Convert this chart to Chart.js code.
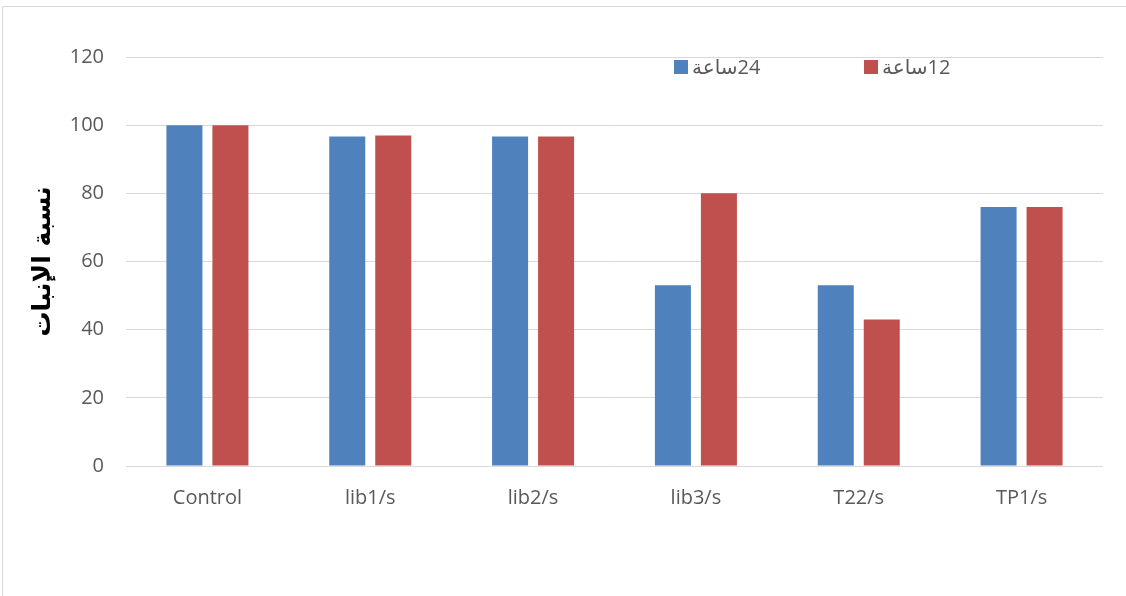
<!DOCTYPE html>
<html>
<head>
<meta charset="utf-8">
<script src="https://cdn.jsdelivr.net/npm/chart.js@4/dist/chart.umd.min.js"></script>
<style>
  html, body { margin: 0; padding: 0; background: #fff; }
  #wrap { width: 1126px; height: 596px; }
</style>
</head>
<body>
<div id="wrap"><canvas id="c" width="1126" height="596"></canvas></div>
<script>
// Germination rate per treatment after 24 h and 12 h
const categories = ['Control', 'lib1/s', 'lib2/s', 'lib3/s', 'T22/s', 'TP1/s'];
const hours24 = [100, 96.7, 96.7, 53, 53, 76];
const hours12 = [100, 97, 96.7, 80, 43, 76];
const seriesNames = ['24ساعة', '12ساعة'];
const yTitle = 'نسبة الإنبات';
const yMin = 0, yMax = 120, yStep = 20;

const BLUE = '#4F81BD';
const RED = '#C0504D';
const TEXT = '#595959';
const GRID = '#D9D9D9';

// Frame lines around the chart object plus a white page
const framePlugin = {
  id: 'frame',
  beforeDraw(chart) {
    const ctx = chart.ctx;
    ctx.save();
    ctx.fillStyle = '#fff';
    ctx.fillRect(0, 0, chart.width, chart.height);
    ctx.strokeStyle = GRID;
    ctx.lineWidth = 1;
    ctx.beginPath();
    ctx.moveTo(2.5, chart.height);
    ctx.lineTo(2.5, 6.5);
    ctx.lineTo(chart.width, 6.5);
    ctx.stroke();
    ctx.restore();
  }
};

// Legend drawn inside the plot area, items spread apart
const inlineLegend = {
  id: 'inlineLegend',
  afterDraw(chart) {
    const ctx = chart.ctx;
    const xs = [674, 864];
    const y = 60, box = 14;
    ctx.save();
    ctx.font = '20px "Open Sans", "DejaVu Sans", sans-serif';
    ctx.textBaseline = 'middle';
    ctx.textAlign = 'left';
    chart.data.datasets.forEach((ds, i) => {
      ctx.fillStyle = ds.backgroundColor;
      ctx.fillRect(xs[i], y, box, box);
      ctx.fillStyle = TEXT;
      ctx.direction = 'rtl';
      ctx.fillText(ds.label, xs[i] + box + 4, y + box / 2 + 1);
    });
    ctx.restore();
  }
};

new Chart(document.getElementById('c'), {
  type: 'bar',
  data: {
    labels: categories,
    datasets: [
      { label: seriesNames[0], data: hours24, backgroundColor: BLUE, borderWidth: 0,
        categoryPercentage: 0.565, barPercentage: 0.783 },
      { label: seriesNames[1], data: hours12, backgroundColor: RED, borderWidth: 0,
        categoryPercentage: 0.565, barPercentage: 0.783 }
    ]
  },
  options: {
    responsive: false,
    animation: false,
    devicePixelRatio: 1,
    layout: { padding: { top: 57, right: 23, bottom: 0, left: 0 } },
    plugins: {
      legend: { display: false },
      tooltip: { enabled: false }
    },
    scales: {
      x: {
        grid: { display: false, drawTicks: false },
        border: { display: false },
        ticks: { color: TEXT, padding: 20, font: { family: '"Open Sans"', size: 20 } },
        afterFit(scale) { scale.height = 130; }
      },
      y: {
        min: yMin, max: yMax,
        grid: { color: GRID, lineWidth: 1, drawTicks: false },
        border: { display: false },
        ticks: { stepSize: yStep, color: TEXT, padding: 22, font: { family: '"Open Sans"', size: 20 } },
        title: {
          display: true, text: yTitle, color: '#000',
          font: { family: '"DejaVu Sans"', size: 25, weight: 'bold' },
          padding: { top: 28, bottom: 0 }
        },
        afterFit(scale) { scale.width = 126; }
      }
    }
  },
  plugins: [framePlugin, inlineLegend]
});
</script>
</body>
</html>
